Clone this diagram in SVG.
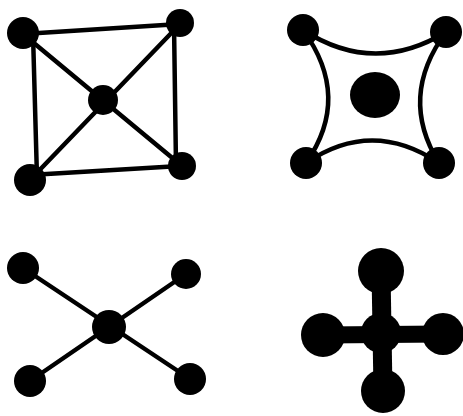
<svg xmlns="http://www.w3.org/2000/svg" width="463" height="416" viewBox="0 0 463 416">
<style>
.e{stroke:#000;stroke-width:4.5;fill:none;stroke-linecap:round}
.n{fill:#000}
.t{stroke:#000;stroke-width:19;fill:none}
</style>
<rect width="463" height="416" fill="#fff"/>
<g id="connectors">
<line class="e" x1="23" y1="34" x2="180" y2="24"/>
<line class="e" x1="33" y1="34" x2="37" y2="178"/>
<line class="e" x1="174" y1="24" x2="176" y2="166"/>
<line class="e" x1="30" y1="175" x2="180" y2="166"/>
<line class="e" x1="23" y1="34" x2="182" y2="166"/>
<line class="e" x1="180" y1="24" x2="30" y2="180"/>
<path class="e" d="M303,30 Q374,76 446,32"/>
<path class="e" d="M303,30 Q352,97 306,163"/>
<path class="e" d="M446,32 Q398,97 439,163"/>
<path class="e" d="M306,163 Q372,118 439,163"/>
<line class="e" x1="23" y1="268" x2="190" y2="379"/>
<line class="e" x1="186" y1="274" x2="30" y2="381"/>
<line class="t" x1="381" y1="271" x2="383" y2="391"/>
<line class="t" x1="323" y1="335" x2="444" y2="334" style="stroke-width:17"/>
</g>
<g id="n1"><circle class="n" cx="23" cy="33" r="16"/></g>
<g id="n2"><circle class="n" cx="180" cy="23" r="14"/></g>
<g id="n3"><circle class="n" cx="103" cy="100" r="15"/></g>
<g id="n4"><circle class="n" cx="30" cy="180" r="16"/></g>
<g id="n5"><circle class="n" cx="182" cy="166" r="14"/></g>
<g id="n6"><circle class="n" cx="303" cy="30" r="16"/></g>
<g id="n7"><circle class="n" cx="446" cy="32" r="16"/></g>
<g id="n8"><ellipse class="n" cx="375" cy="95" rx="25" ry="23"/></g>
<g id="n9"><circle class="n" cx="306" cy="163" r="16"/></g>
<g id="n10"><circle class="n" cx="439" cy="163" r="16"/></g>
<g id="n11"><circle class="n" cx="23" cy="268" r="16"/></g>
<g id="n12"><circle class="n" cx="186" cy="274" r="15"/></g>
<g id="n13"><circle class="n" cx="109" cy="327" r="17"/></g>
<g id="n14"><circle class="n" cx="30" cy="381" r="16"/></g>
<g id="n15"><circle class="n" cx="190" cy="379" r="16"/></g>
<g id="n16"><circle class="n" cx="381" cy="271" r="23"/></g>
<g id="n17"><circle class="n" cx="323" cy="335" r="22"/></g>
<g id="n18"><circle class="n" cx="443" cy="334" r="21"/></g>
<g id="n19"><circle class="n" cx="383" cy="391" r="22"/></g>
<g id="n20"><circle class="n" cx="381" cy="333" r="20"/></g>
</svg>
